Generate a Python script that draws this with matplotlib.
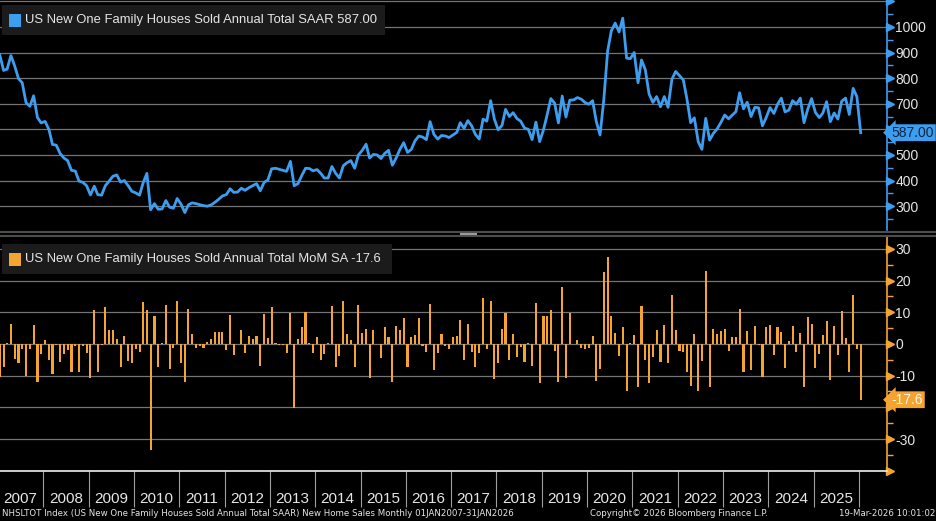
import numpy as np
import pandas as pd
import matplotlib
matplotlib.use('Agg')
import matplotlib.pyplot as plt
import matplotlib.dates as mdates
from matplotlib.patches import Rectangle
from matplotlib.transforms import ScaledTranslation
from matplotlib.ticker import FixedLocator, MultipleLocator, NullFormatter

# US New One Family Houses Sold, SAAR (thousands), Jan 2007 .. Jan 2026
levels = [
    891, 830, 835, 888, 848, 798, 782, 704, 690, 731, 646, 625,
    631, 600, 541, 538, 506, 488, 478, 440, 437, 398, 393, 380,
    344, 378, 345, 343, 380, 398, 417, 422, 394, 400, 380, 358,
    352, 343, 390, 428, 286, 310, 288, 289, 322, 296, 292, 330,
    308, 275, 305, 313, 310, 306, 302, 300, 305, 315, 327, 340,
    345, 368, 354, 355, 370, 362, 372, 380, 388, 360, 393, 402,
    446, 448, 444, 440, 436, 475, 380, 388, 420, 448, 447, 438,
    443, 428, 410, 410, 455, 428, 410, 458, 470, 478, 448, 500,
    518, 542, 488, 502, 500, 486, 506, 518, 460, 488, 522, 548,
    510, 522, 555, 574, 570, 560, 630, 580, 562, 576, 574, 568,
    578, 588, 626, 604, 634, 614, 580, 562, 640, 632, 712, 640,
    598, 616, 678, 650, 665, 642, 632, 605, 600, 560, 628, 552,
    598, 660, 720, 702, 625, 730, 648, 714, 715, 724, 718, 705,
    698, 712, 632, 578, 715, 905, 985, 1015, 980, 1034, 878, 876,
    900, 782, 871, 832, 738, 705, 728, 688, 728, 686, 795, 826,
    810, 793, 722, 626, 645, 552, 522, 643, 558, 584, 602, 627,
    656, 641, 655, 669, 743, 680, 706, 650, 686, 684, 614, 646,
    685, 662, 697, 722, 668, 675, 712, 698, 722, 626, 680, 720,
    666, 646, 663, 708, 630, 664, 640, 710, 722, 658, 760, 728,
    587,
]

# MoM % change, SA
mom = [
    -10.3, -7.2, 0.4, 6.2, -4.8, -5.9, -1.7, -10.0, -1.7, 5.9, -11.9, -3.3,
    1.3, -5.1, -9.6, -0.3, -5.8, -3.3, -1.9, -8.7, -0.5, -8.9, -0.8, -2.9,
    -10.8, 10.7, -8.7, -0.3, 11.6, 4.4, 4.4, 1.6, -7.4, 2.5, -5.3, -6.1,
    -1.7, -2.4, 13.2, 10.7, -33.4, 8.8, -7.2, 0.3, 12.3, -8.0, -1.4, 13.6,
    -5.9, -11.9, 10.9, 3.2, -1.4, -0.8, -1.4, 0.7, 1.5, 3.7, 3.7, 3.7,
    -1.9, 9.1, -3.5, 0.1, 4.4, -2.7, 2.5, 1.6, 2.5, -6.9, 9.5, 1.8,
    11.6, 0.2, -0.3, -0.4, -2.9, 9.7, -20.1, 1.5, 5.5, 10.0, 0.2, -2.7,
    2.1, -5.1, -3.3, 0.3, 12.0, -7.2, -3.8, 13.6, 3.1, 1.3, -7.2, 12.3,
    3.4, 4.7, -10.8, 4.4, 0.0, -4.3, 5.3, 2.1, -11.9, 5.7, 4.4, 8.1,
    -7.4, 2.1, 2.7, 8.1, -0.8, -2.4, 12.6, -8.2, -2.9, 3.1, -0.6, -1.7,
    2.1, 2.5, 7.6, -5.1, 6.2, -2.4, -7.4, -2.7, 14.4, -1.7, 13.6, -11.2,
    -6.1, 4.7, 9.7, -5.1, 3.1, -4.0, -1.1, -5.6, 0.2, -6.9, 12.8, -12.4,
    8.8, 8.8, 10.7, -2.1, -11.9, 17.9, -10.8, 9.7, 0.0, 1.3, -1.4, -1.7,
    -1.4, 2.5, -11.6, -8.0, 22.8, 27.4, 8.8, 3.4, -3.8, 5.3, -15.0, 0.2,
    2.8, -13.5, 12.0, -5.1, -12.4, -4.0, 4.4, -5.6, 6.0, -5.9, 15.5, 4.4,
    -2.1, -2.4, -8.7, -13.2, 3.2, -14.7, -5.3, 23.1, -13.5, 4.7, 3.2, 4.1,
    4.6, -2.1, 2.1, 2.1, 11.1, -8.7, 4.1, -8.2, 5.7, -0.3, -10.3, 5.3,
    6.0, -3.5, 5.2, 3.9, -7.5, 0.9, 5.7, -2.4, 3.6, -13.5, 8.6, 6.3,
    -7.7, -3.2, 2.8, 7.1, -11.4, 5.7, -3.5, 10.4, 2.0, -8.7, 15.5, -1.7,
    -17.6,
]

years = list(range(2007, 2026))
top_ticks = [300, 400, 500, 600, 700, 800, 900, 1000]
bot_ticks = [-30, -20, -10, 0, 10, 20, 30]

title_top = "US New One Family Houses Sold Annual Total SAAR"
title_bot = "US New One Family Houses Sold Annual Total MoM SA"
footer_left = ("NHSLTOT Index (US New One Family Houses Sold Annual Total SAAR) "
               "New Home Sales Monthly 01JAN2007-31JAN2026")
footer_mid = "Copyright\u00a9 2026 Bloomberg Finance L.P."
footer_right = "19-Mar-2026 10:01:02"

BLUE = '#3d9ef0'
ORANGE = '#f5a431'
GRID = '#747474'
TXT = '#e6e6e6'
FONT = ['Liberation Sans', 'DejaVu Sans']

dates = pd.date_range('2007-01-01', periods=len(levels), freq='MS') + pd.Timedelta(days=14)

W, H = 937, 521
fig = plt.figure(figsize=(W / 100, H / 100), dpi=100, facecolor='black')


def fx(px):
    return px / W


def fy(py):
    return 1 - py / H


ax1 = fig.add_axes([0, fy(230), fx(887), 230 / H])
ax2 = fig.add_axes([0, fy(470.7), fx(887), (470.7 - 237) / H])

x0 = pd.Timestamp('2007-01-17')
x1 = x0 + pd.Timedelta(days=7150)


def right_fmt(hidden):
    # labels covered by the last-value tag are not drawn
    def f(v, p):
        if any(abs(v - h) < 1e-9 for h in hidden):
            return ''
        return f'{v:.0f}'
    return plt.FuncFormatter(f)


for ax, col in ((ax1, BLUE), (ax2, ORANGE)):
    ax.set_facecolor('black')
    ax.set_xlim(x0, x1)
    for s in ('left', 'top', 'bottom'):
        ax.spines[s].set_visible(False)
    ax.spines['right'].set_color(col)
    ax.spines['right'].set_linewidth(1.2)
    ax.yaxis.tick_right()
    ax.tick_params(axis='y', which='major', length=0, pad=6, labelsize=10,
                   labelcolor=TXT)
    ax.tick_params(axis='y', which='minor', length=4, width=1, color=col)
    ax.grid(axis='y', color=GRID, linewidth=0.9)
    ax.set_axisbelow(True)

# top panel: line
ax1.plot(dates, levels, color=BLUE, linewidth=2.0, solid_joinstyle='round')
ax1.set_ylim(207, 1105)
ax1.yaxis.set_major_locator(FixedLocator(top_ticks + [1100]))
ax1.yaxis.set_major_formatter(right_fmt([600, 1100]))
ax1.yaxis.set_minor_locator(MultipleLocator(50))
ax1.tick_params(axis='x', which='both', length=0, labelbottom=False)

# bottom panel: bars
ax2.bar(dates, mom, width=17, color=ORANGE, linewidth=0, antialiased=False)
ax2.set_ylim(-40, 33.75)
ax2.yaxis.set_major_locator(FixedLocator(bot_ticks + [-40]))
ax2.yaxis.set_major_formatter(right_fmt([-20, -40]))
ax2.yaxis.set_minor_locator(MultipleLocator(5))
ax2.spines['bottom'].set_visible(True)
ax2.spines['bottom'].set_color('#f0f0f0')
ax2.spines['bottom'].set_linewidth(1.2)

jan = [mdates.date2num(pd.Timestamp(f'{y + 1}-01-01')) for y in years]
jul = [mdates.date2num(pd.Timestamp(f'{y}-07-01')) for y in years]
ax2.xaxis.set_major_locator(FixedLocator(jan))
ax2.xaxis.set_major_formatter(NullFormatter())
ax2.xaxis.set_minor_locator(FixedLocator(jul))
ax2.xaxis.set_minor_formatter(plt.FuncFormatter(lambda v, p: mdates.num2date(v).strftime('%Y')))
ax2.tick_params(axis='x', which='major', length=26, width=0.8, color='#a0a0a0', direction='out')
ax2.tick_params(axis='x', which='minor', length=0, pad=15, labelsize=11, labelcolor=TXT)

# make sure every tick label uses the chosen family
for ax in (ax1, ax2):
    for t in ax.yaxis.get_major_ticks() + ax2.xaxis.get_minor_ticks():
        t.label1.set_family(FONT)
        t.label2.set_family(FONT)

# triangle tick markers on right axes
for ax, ticks, col in ((ax1, top_ticks + [1100], BLUE), (ax2, bot_ticks + [-40], ORANGE)):
    tr = ax.get_yaxis_transform() + ScaledTranslation(3 / 100, 0, fig.dpi_scale_trans)
    ax.plot([1] * len(ticks), ticks, transform=tr, marker='>', markersize=6,
            color=col, linestyle='none', clip_on=False)

# last value tags
ax1.annotate(f'{levels[-1]:.2f}', xy=(1, levels[-1]), xycoords=ax1.get_yaxis_transform(),
             xytext=(3.5, 0), textcoords='offset points', ha='left', va='center',
             fontsize=10, family=FONT, color='#0b2440', zorder=6,
             bbox=dict(boxstyle='larrow,pad=0.1', fc=BLUE, ec='none'))
ax2.annotate(f'{mom[-1]:.1f}', xy=(1, mom[-1]), xycoords=ax2.get_yaxis_transform(),
             xytext=(3.5, 0), textcoords='offset points', ha='left', va='center',
             fontsize=10, family=FONT, color='#fff6e8', zorder=6,
             bbox=dict(boxstyle='larrow,pad=0.1', fc=ORANGE, ec='none'))

# legend boxes
for ytop, col, width, label in ((5, BLUE, 383, f'{title_top} {levels[-1]:.2f}'),
                                (244, ORANGE, 390, f'{title_bot} {mom[-1]:.1f}')):
    fig.patches.append(Rectangle((fx(2), fy(ytop + 30)), fx(width), 30 / H,
                                 transform=fig.transFigure, fc='#1b1b1b', ec='none'))
    fig.patches.append(Rectangle((fx(9), fy(ytop + 22)), fx(12), 13 / H,
                                 transform=fig.transFigure, fc=col, ec='none'))
    fig.text(fx(25), fy(ytop + 15), label, fontsize=9.4, color=TXT, family=FONT,
             va='center', ha='left')

# panel divider
for py in (231.5, 235.5):
    fig.add_artist(plt.Line2D([0, 1], [fy(py), fy(py)], transform=fig.transFigure,
                              color='#4d4d4d', linewidth=1.5))
fig.add_artist(plt.Line2D([fx(461), fx(476)], [fy(233.5), fy(233.5)], transform=fig.transFigure,
                          color='#9a9a9a', linewidth=1.5))

# footer
fig.text(fx(2), fy(513), footer_left, fontsize=6.2, color=TXT, va='center', ha='left')
fig.text(fx(590), fy(513), footer_mid, fontsize=6.2, color=TXT, va='center', ha='left')
fig.text(fx(935), fy(513), footer_right, fontsize=6.2, color=TXT, va='center', ha='right')

fig.savefig('out.png', dpi=100, facecolor='black')
